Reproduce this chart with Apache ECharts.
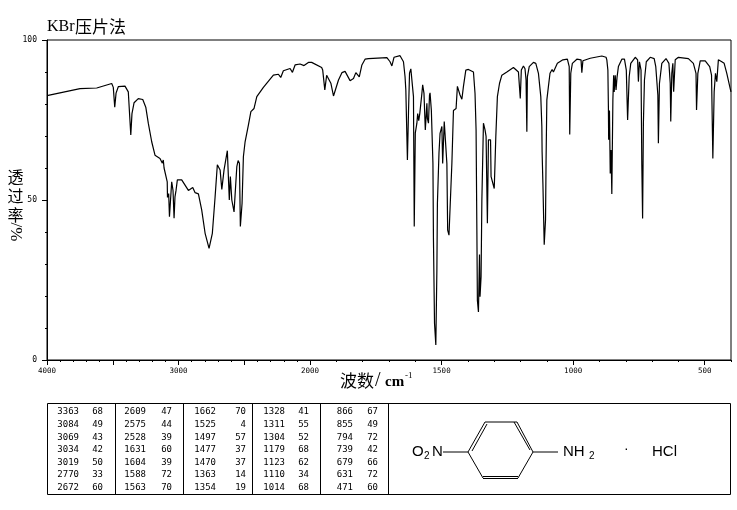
<!DOCTYPE html>
<html><head><meta charset="utf-8">
<style>html,body{margin:0;padding:0;background:#fff}#c{width:737px;height:510px}</style>
<script src="https://cdn.jsdelivr.net/npm/echarts@6/dist/echarts.min.js"></script>
</head><body><div id="c"></div>
<script>
const wavenumbers=[4000,3749,3622,3508,3496,3485,3475,3458,3407,3382,3371,3363,3354,3338,3306,3272,3249,3230,3204,3179,3141,3123,3116,3110,3095,3086,3084,3075,3069,3052,3042,3034,3027,3019,3009,2976,2925,2892,2874,2849,2824,2798,2768,2743,2722,2705,2692,2684,2671,2654,2629,2621,2614,2606,2595,2588,2578,2568,2557,2547,2537,2530,2517,2507,2494,2469,2450,2426,2405,2355,2279,2241,2223,2203,2152,2134,2114,2076,2046,2013,1994,1956,1952,1944,1937,1930,1921,1911,1905,1892,1879,1867,1848,1835,1826,1820,1813,1803,1791,1778,1772,1708,1696,1689,1681,1658,1645,1639,1636,1632,1630,1626,1622,1617,1611,1607,1604,1600,1594,1591,1587,1583,1575,1572,1567,1562,1556,1554,1550,1546,1544,1539,1533,1531,1527,1522,1518,1516,1510,1506,1499,1496,1490,1485,1480,1477,1472,1465,1461,1455,1445,1440,1435,1430,1423,1417,1408,1398,1379,1373,1369,1366,1364,1360,1356,1354,1350,1347,1341,1335,1331,1326,1322,1314,1312,1308,1300,1297,1294,1288,1280,1271,1252,1227,1208,1203,1201,1197,1189,1183,1179,1176,1174,1167,1151,1142,1132,1123,1119,1118,1115,1110,1105,1103,1100,1094,1088,1080,1075,1069,1060,1039,1022,1015,1013,1009,1003,986,970,967,963,935,891,875,872,868,866,865,862,859,856,853,849,846,844,840,837,833,828,815,805,798,793,787,781,764,755,752,748,742,739,736,733,729,722,707,692,686,678,676,672,663,647,636,631,629,625,621,618,612,600,562,543,533,531,526,517,498,481,474,469,464,459,454,448,444,435,426,416,403,400];
const transmittance=[82.6,84.8,85,86.4,85.2,79,83.4,85.4,85.6,83.8,76,70.3,77,80.4,81.7,81.4,79,74,68.2,64,63,61.5,62.5,60,60.4,55.7,50.8,52,44.8,55.7,53,44.3,51,53,56.3,56.3,53,53.9,52.3,51.9,46.9,39.6,34.9,39.6,51,61,61.5,59.4,53.3,59.4,65.4,65.4,50,57.3,50,50,46.3,46.8,60.4,62.3,61.5,41.7,49,63.5,68.2,73.4,77.6,78.6,82.3,85.2,89,89.3,88.3,90.4,91.1,89.9,92.2,92.5,92,93,93,91.4,90.6,84.4,89,89.6,86.5,82.5,82.6,87.5,89.8,90.2,87.3,88,89.8,89.9,88.5,92.2,94,94.2,94.3,94.5,93.2,91.9,94.6,95.1,93.2,88.5,84.4,69.8,62.5,77,89.6,91,91.2,82.3,41.7,71,74,77,74.8,77,83.3,86,83.3,71.9,80.2,75.5,74,82.8,83.5,78,61.4,37.5,11.5,4.7,28,49,64.7,70.8,73,61.4,74.5,74.5,61.4,40.6,39,39,61.4,78,78.6,85.5,86,82.8,81.5,85.5,90.6,90.8,90,83.3,71.9,40.6,18.6,15,33,19.8,26,50,74,71.9,69.9,42.7,68.8,68.8,57.3,56.8,53.6,61.4,69.8,82.3,86.4,89,90,91.4,90,89.6,81.7,90.6,91.9,91,87.5,71.3,88.5,91.7,93,92.7,89.6,82.3,72.9,65,55.2,36,43.8,62,81.3,85.5,89.6,90.8,90,90,92.7,93.8,94,91.7,70.5,89.6,92.7,94,93.8,89.8,93.5,94.3,95,94.6,93.8,90.6,79,68.8,78,58.3,65.6,51.9,81.3,89,83.8,89,84.4,88.5,91.7,94,94,90.6,75,88.5,92.7,94.6,93.8,87,93.2,90.6,61,44.2,74,87.5,93.2,94.6,94.2,91.7,82.8,67.7,86.4,92.7,94.2,92.7,86.5,74.5,89.6,92.7,83.8,93.8,94.6,94.2,92.7,89.6,78.1,89.6,93.5,93.5,91.7,89,63,83.8,89.6,87,93.8,94.2,93.2,92.7,89.6,84.8,83.8];
const xLabelTicks=[4000,3000,2000,1500,1000,500];
const xMajorTicks=[4000,3500,3000,2500,2000,1500,1000,500];
const xMinorTicks=[3900,3800,3700,3600,3400,3300,3200,3100,2900,2800,2700,2600,2400,2300,2200,2100,1900,1800,1700,1600,1400,1300,1200,1100,900,800,700,600,400];
const peakColumns=[
 [["3363","68"],["3084","49"],["3069","43"],["3034","42"],["3019","50"],["2770","33"],["2672","60"]],
 [["2609","47"],["2575","44"],["2528","39"],["1631","60"],["1604","39"],["1588","72"],["1563","70"]],
 [["1662","70"],["1525","4"],["1497","57"],["1477","37"],["1470","37"],["1363","14"],["1354","19"]],
 [["1328","41"],["1311","55"],["1304","52"],["1179","68"],["1123","62"],["1110","34"],["1014","68"]],
 [["866","67"],["855","49"],["794","72"],["739","42"],["679","66"],["631","72"],["471","60"]]
];
const titleParts=["KBr","压片法"];

// the chart's wavenumber axis changes scale at 2000 cm-1
const toAxis=w=>w>=2000?(4000-w)/2:1000+(2000-w);
const fromAxis=u=>Math.round(u<=1000?4000-2*u:2000-(u-1000));
const specData=wavenumbers.map((w,i)=>[toAxis(w),transmittance[i]]);

const CN='"Noto Sans CJK SC",sans-serif', MONO='"DejaVu Sans Mono",monospace', SERIF='"Liberation Serif",serif', SANS='"Liberation Sans",sans-serif';
const g=[];
const txt=(x,y,s,size,font,extra)=>g.push({type:'text',x,y,style:Object.assign({text:s,fontSize:size,fontFamily:font,fill:'#000',textVerticalAlign:'middle'},extra||{})});
const ln=(a,b,c,d,w)=>g.push({type:'line',shape:{x1:a,y1:b,x2:c,y2:d},style:{stroke:'#000',lineWidth:w||1}});
// title and axis names
txt(47,27,titleParts[0],16,SERIF);
txt(75,27,titleParts[1],17,CN);
txt(15.5,176.5,'透',16,CN,{textAlign:'center'});
txt(15.5,195.5,'过',16,CN,{textAlign:'center'});
txt(15.5,214.5,'率',16,CN,{textAlign:'center'});
g.push({type:'text',x:15.5,y:232,rotation:-Math.PI/2,style:{text:'/%',fontSize:17,fontFamily:SERIF,fill:'#000',textAlign:'center',textVerticalAlign:'middle'}});
txt(340,381,'波数',17,CN);
txt(375,381,'/',20,SERIF);
txt(385,382,'cm',15,SERIF,{fontWeight:'bold'});
txt(405,376,'-1',9,SERIF);
// table frame
g.push({type:'rect',shape:{x:47.5,y:403.5,width:683,height:91},style:{fill:'none',stroke:'#000',lineWidth:1}});
[115.5,183.5,252.5,320.5,388.5].forEach(x=>ln(x,404,x,495));
const colW=[79,146,216,285,353], colT=[103,172,246,309,378];
peakColumns.forEach((col,c)=>col.forEach((r,i)=>{
  const y=412+12.6*i;
  txt(colW[c],y,r[0],9,MONO,{textAlign:'right'});
  txt(colT[c],y,r[1],9,MONO,{textAlign:'right'});
}));
// structure
ln(468,452,485,422);ln(472,451,487,424);
ln(485,422,517,422);
ln(517,422,533,452);ln(514,422,530,450);
ln(533,452,518,478);
ln(518,478.5,483,478.5);ln(518,476.5,483,476.5);
ln(483,478,468,452);
ln(443,452,468,452);ln(533,452,558,452);
txt(412,452,'O',15,SANS);
txt(424,456,'2',10,SANS);
txt(432,452,'N',15,SANS);
txt(563,452,'NH',15,SANS);
txt(589,456,'2',10,SANS);
txt(624,449,'·',14,SANS);
txt(652,452,'HCl',15,SANS,{letterSpacing:2});

const chart=echarts.init(document.getElementById('c'),null,{renderer:'canvas'});
chart.setOption({
 animation:false,
 backgroundColor:'#fff',
 grid:{left:47,top:40,width:684,height:320,show:true,borderColor:'#000',borderWidth:1,backgroundColor:'transparent',containLabel:false},
 xAxis:[
  {type:'value',min:0,max:2600,position:'bottom',splitLine:{show:false},
   axisLine:{show:true,lineStyle:{color:'#000'}},
   axisTick:{show:true,length:5,lineStyle:{color:'#000'},customValues:xMajorTicks.map(toAxis)},
   axisLabel:{color:'#000',fontSize:7.5,fontFamily:MONO,margin:7,customValues:xLabelTicks.map(toAxis),formatter:v=>String(fromAxis(v))}},
  {type:'value',min:0,max:2600,position:'bottom',splitLine:{show:false},
   axisLine:{show:false},
   axisTick:{show:true,length:2,lineStyle:{color:'#000'},customValues:xMinorTicks.map(toAxis)},
   axisLabel:{show:false}}
 ],
 yAxis:{type:'value',min:0,max:100,interval:50,splitLine:{show:false},
  axisLine:{show:true,lineStyle:{color:'#000'}},
  axisTick:{show:true,length:5,lineStyle:{color:'#000'}},
  minorTick:{show:true,splitNumber:5,length:2,lineStyle:{color:'#000'}},
  axisLabel:{color:'#000',fontSize:8,fontFamily:MONO,margin:10}},
 series:[{type:'line',data:specData,showSymbol:false,symbol:'none',smooth:false,lineStyle:{color:'#000',width:1.2},clip:true}],
 graphic:{elements:g}
});
</script></body></html>
